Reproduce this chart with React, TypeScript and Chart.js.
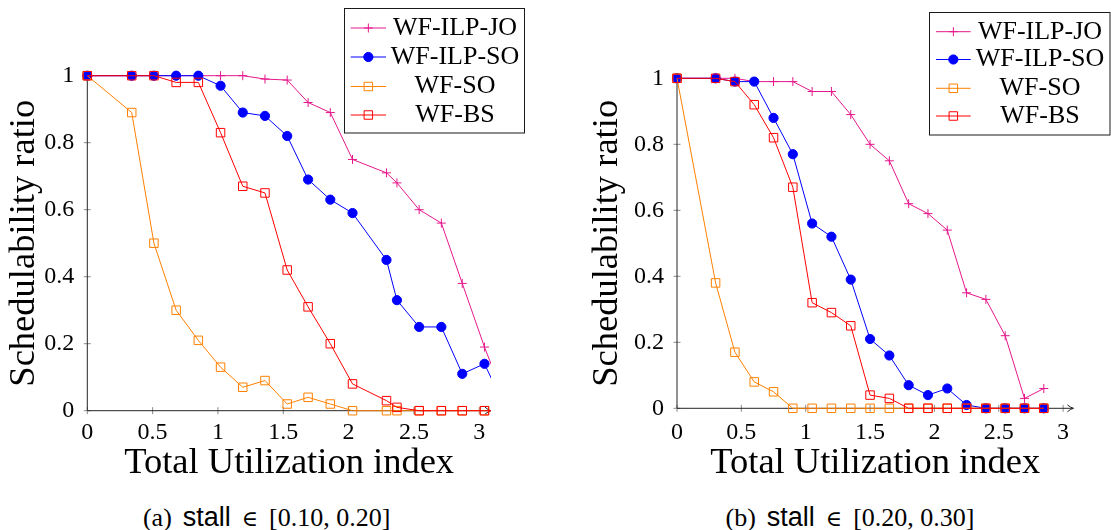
import React, { useEffect, useRef } from 'react';
import { Chart, registerables } from 'chart.js';

Chart.register(...registerables);

// ---------- shared text / ticks ----------
const SERIES_NAMES = ['WF-ILP-JO', 'WF-ILP-SO', 'WF-SO', 'WF-BS'];
const X_TICKS = [0, 0.5, 1, 1.5, 2, 2.5, 3];
const X_TICK_LABELS = ['0', '0.5', '1', '1.5', '2', '2.5', '3'];
const Y_TICKS = [0, 0.2, 0.4, 0.6, 0.8, 1];
const Y_TICK_LABELS = ['0', '0.2', '0.4', '0.6', '0.8', '1'];
const X_TITLE = 'Total Utilization index';
const Y_TITLE = 'Schedulability ratio';

// ---------- panel (a): stall in [0.10, 0.20] ----------
const utilA = [0, 0.34, 0.51, 0.68, 0.85, 1.02, 1.19, 1.36, 1.53, 1.69, 1.86, 2.03, 2.29, 2.37, 2.54, 2.71, 2.87, 3.04, 3.21];
const ilpJoA = [1, 1, 1, 1, 1, 1, 1, 0.99, 0.987, 0.92, 0.89, 0.75, 0.71, 0.68, 0.6, 0.56, 0.38, 0.19, 0.02];
const ilpSoA = [1, 1, 1, 1, 1, 0.97, 0.89, 0.88, 0.82, 0.69, 0.63, 0.59, 0.45, 0.33, 0.25, 0.25, 0.11, 0.14, 0.0];
const wfSoA = [1, 0.89, 0.5, 0.3, 0.21, 0.13, 0.07, 0.09, 0.02, 0.04, 0.02, 0, 0, 0, 0, 0, 0, 0, 0];
const wfBsA = [1, 1, 1, 0.98, 0.98, 0.83, 0.67, 0.65, 0.42, 0.31, 0.2, 0.08, 0.03, 0.01, 0, 0, 0, 0, 0];

// ---------- panel (b): stall in [0.20, 0.30] ----------
const utilB = [0, 0.3, 0.45, 0.6, 0.75, 0.9, 1.05, 1.2, 1.35, 1.5, 1.65, 1.8, 1.95, 2.1, 2.25, 2.4, 2.55, 2.7, 2.85];
const ilpJoB = [1, 1, 1, 0.99, 0.99, 0.99, 0.96, 0.96, 0.89, 0.8, 0.75, 0.62, 0.59, 0.54, 0.35, 0.33, 0.22, 0.03, 0.06];
const ilpSoB = [1, 1, 0.99, 0.99, 0.88, 0.77, 0.56, 0.52, 0.39, 0.21, 0.16, 0.07, 0.04, 0.06, 0.01, 0, 0, 0, 0];
const wfSoB = [1, 0.38, 0.17, 0.08, 0.05, 0, 0, 0, 0, 0, 0, 0, 0, 0, 0, 0, 0, 0, 0];
const wfBsB = [1, 1, 0.99, 0.92, 0.82, 0.67, 0.32, 0.29, 0.25, 0.04, 0.03, 0, 0, 0, 0, 0, 0, 0, 0];

// ---------- captions ----------
const CAPTION_TAGS = ['(a)', '(b)'];
const CAPTION_RANGES = ['[0.10, 0.20]', '[0.20, 0.30]'];

// ---------- styles ----------
const SERIF = '"Liberation Serif", "Times New Roman", serif';
const STYLES = [
  { color: '#e6178c', marker: 'cross', radius: 4.5, fill: '#e6178c', order: 3 },
  { color: '#0000ff', marker: 'circle', radius: 4.6, fill: '#0000ff', order: 2 },
  { color: '#ff8000', marker: 'rect', radius: 6, fill: 'rgba(0,0,0,0)', order: 1 },
  { color: '#ff0000', marker: 'rect', radius: 6, fill: 'rgba(0,0,0,0)', order: 0 },
];

type Cfg = {
  left: number; width: number; height: number;
  plotLeft: number; plotRight: number; plotTop: number; plotBottom: number;
  xMax: number; xTickPad: number; yTickPad: number; yTitlePad: number;
  clipRight: boolean;
  legend: { l: number; t: number; r: number; b: number; rows: number[]; s1: number; s2: number; tx: number };
  util: number[]; series: number[][];
  captionCenter: number;
};

const PANELS: Cfg[] = [
  {
    left: 0, width: 530, height: 485,
    plotLeft: 87.3, plotRight: 491, plotTop: 75.7, plotBottom: 410.7,
    xMax: 3.09, xTickPad: 8, yTickPad: 13, yTitlePad: 2.8,
    clipRight: true,
    legend: { l: 344.5, t: 8.5, r: 524.5, b: 133, rows: [28, 57, 86.5, 115], s1: 350.7, s2: 386, tx: 455 },
    util: utilA, series: [ilpJoA, ilpSoA, wfSoA, wfBsA],
    captionCenter: 266.7,
  },
  {
    left: 560, width: 551, height: 485,
    plotLeft: 117, plotRight: 513.4, plotTop: 78.3, plotBottom: 408.3,
    xMax: 3.08, xTickPad: 10, yTickPad: 13, yTitlePad: 25.1,
    clipRight: false,
    legend: { l: 369.5, t: 12.5, r: 550, b: 135, rows: [31.7, 59.5, 88.3, 116], s1: 376, s2: 410.7, tx: 480 },
    util: utilB, series: [ilpJoB, ilpSoB, wfSoB, wfBsB],
    captionCenter: 850,
  },
];

function drawMarker(ctx: CanvasRenderingContext2D, st: any, x: number, y: number) {
  ctx.save();
  ctx.strokeStyle = st.color;
  ctx.fillStyle = st.fill;
  ctx.lineWidth = 1;
  ctx.beginPath();
  if (st.marker === 'cross') {
    ctx.moveTo(x - st.radius, y);
    ctx.lineTo(x + st.radius, y);
    ctx.moveTo(x, y - st.radius);
    ctx.lineTo(x, y + st.radius);
    ctx.stroke();
  } else if (st.marker === 'circle') {
    ctx.arc(x, y, st.radius, 0, Math.PI * 2);
    ctx.fill();
    ctx.stroke();
  } else {
    const s = st.radius * Math.SQRT1_2;
    ctx.rect(x - s, y - s, 2 * s, 2 * s);
    ctx.stroke();
  }
  ctx.restore();
}

function makeAxesPlugin() {
  return {
    id: 'pgfAxes',
    beforeDatasetsDraw(chart: any) {
      const { ctx, chartArea: a, scales } = chart;
      const xs = scales.x;
      const ys = scales.y;
      ctx.save();
      ctx.lineWidth = 1;
      ctx.strokeStyle = '#8a8a8a';
      ctx.beginPath();
      X_TICKS.forEach((v) => {
        const px = xs.getPixelForValue(v);
        ctx.moveTo(px, a.bottom - 3.5);
        ctx.lineTo(px, a.bottom + 3.5);
      });
      Y_TICKS.forEach((v) => {
        const py = ys.getPixelForValue(v);
        ctx.moveTo(a.left - 3.5, py);
        ctx.lineTo(a.left + 3.5, py);
      });
      ctx.stroke();
      ctx.strokeStyle = '#262626';
      ctx.beginPath();
      ctx.moveTo(a.left, a.top);
      ctx.lineTo(a.left, a.bottom);
      ctx.lineTo(a.right, a.bottom);
      ctx.stroke();
      ctx.beginPath();
      ctx.moveTo(a.right - 6, a.bottom - 3.5);
      ctx.quadraticCurveTo(a.right - 3, a.bottom - 0.8, a.right, a.bottom);
      ctx.quadraticCurveTo(a.right - 3, a.bottom + 0.8, a.right - 6, a.bottom + 3.5);
      ctx.stroke();
      ctx.restore();
    },
  };
}

function makeLegendPlugin(cfg: Cfg) {
  return {
    id: 'boxLegend',
    afterDraw(chart: any) {
      const { ctx } = chart;
      const L = cfg.legend;
      ctx.save();
      ctx.fillStyle = '#ffffff';
      ctx.fillRect(L.l, L.t, L.r - L.l, L.b - L.t);
      ctx.strokeStyle = '#1a1a1a';
      ctx.lineWidth = 1;
      ctx.strokeRect(L.l, L.t, L.r - L.l, L.b - L.t);
      SERIES_NAMES.forEach((name, i) => {
        const st = STYLES[i];
        const y = L.rows[i];
        ctx.strokeStyle = st.color;
        ctx.lineWidth = 1;
        ctx.beginPath();
        ctx.moveTo(L.s1, y);
        ctx.lineTo(L.s2, y);
        ctx.stroke();
        drawMarker(ctx, st, (L.s1 + L.s2) / 2, y);
        ctx.fillStyle = '#000';
        ctx.font = `26px ${SERIF}`;
        ctx.textAlign = 'center';
        ctx.textBaseline = 'middle';
        ctx.fillText(name, L.tx, y);
      });
      ctx.restore();
    },
  };
}

function Panel({ cfg }: { cfg: Cfg }) {
  const ref = useRef<HTMLCanvasElement>(null);
  useEffect(() => {
    const canvas = ref.current;
    if (!canvas) return;
    const datasets = cfg.series.map((ys, i) => {
      const st = STYLES[i];
      return {
        label: SERIES_NAMES[i],
        data: cfg.util.map((x, j) => ({ x, y: ys[j] })),
        borderColor: st.color,
        backgroundColor: st.fill,
        borderWidth: 1,
        tension: 0,
        pointStyle: st.marker,
        pointRadius: st.radius,
        pointBorderWidth: 1,
        pointBorderColor: st.color,
        pointBackgroundColor: st.fill,
        order: st.order,
        clip: cfg.clipRight ? { left: false, top: false, right: 0, bottom: false } : false,
      };
    });
    const chart = new Chart(canvas, {
      type: 'line',
      data: { datasets } as any,
      options: {
        animation: false,
        responsive: false,
        layout: { padding: { left: 0, top: cfg.plotTop, right: cfg.width - cfg.plotRight, bottom: 0 } },
        plugins: { legend: { display: false }, tooltip: { enabled: false } },
        scales: {
          x: {
            type: 'linear',
            min: 0,
            max: cfg.xMax,
            afterFit: (s: any) => { s.height = cfg.height - cfg.plotBottom; },
            afterBuildTicks: (s: any) => { s.ticks = X_TICKS.map((v) => ({ value: v })); },
            ticks: {
              callback: (_v: any, idx: number) => X_TICK_LABELS[idx],
              font: { family: SERIF, size: 24 },
              color: '#000',
              padding: cfg.xTickPad,
              maxRotation: 0,
              autoSkip: false,
              includeBounds: false,
            },
            grid: { display: false, drawTicks: false },
            border: { display: false },
            title: { display: true, text: X_TITLE, font: { family: SERIF, size: 36.5 }, color: '#000', padding: 0 },
          },
          y: {
            type: 'linear',
            min: 0,
            max: 1,
            afterFit: (s: any) => { s.width = cfg.plotLeft; },
            afterBuildTicks: (s: any) => { s.ticks = Y_TICKS.map((v) => ({ value: v })); },
            ticks: {
              callback: (_v: any, idx: number) => Y_TICK_LABELS[idx],
              font: { family: SERIF, size: 24 },
              color: '#000',
              padding: cfg.yTickPad,
              autoSkip: false,
              includeBounds: false,
            },
            grid: { display: false, drawTicks: false },
            border: { display: false },
            title: { display: true, text: Y_TITLE, font: { family: SERIF, size: 36.5 }, color: '#000', padding: { top: cfg.yTitlePad, bottom: 0 } },
          },
        },
      } as any,
      plugins: [makeAxesPlugin(), makeLegendPlugin(cfg)],
    });
    return () => chart.destroy();
  }, [cfg]);
  return (
    <canvas
      ref={ref}
      width={cfg.width}
      height={cfg.height}
      style={{ position: 'absolute', left: cfg.left, top: 0, width: cfg.width, height: cfg.height }}
    />
  );
}

export default function App() {
  return (
    <div style={{ position: 'fixed', left: 0, top: 0, width: 1111, height: 530, background: '#fff', overflow: 'hidden' }}>
      {PANELS.map((p, i) => (
        <React.Fragment key={i}>
          <Panel cfg={p} />
          <div
            style={{
              position: 'absolute', left: p.captionCenter - 200, width: 400, top: 502,
              textAlign: 'center', fontFamily: SERIF, fontSize: 26, lineHeight: '30px',
              whiteSpace: 'pre', color: '#000',
            }}
          >
            <span>{CAPTION_TAGS[i]}</span>
            <span style={{ marginLeft: 11, fontFamily: '"Liberation Sans", sans-serif', fontSize: 27 }}>stall</span>
            <span style={{ marginLeft: 11, fontFamily: '"DejaVu Serif", serif', fontSize: 22 }}>∈</span>
            <span style={{ marginLeft: 11 }}>{CAPTION_RANGES[i]}</span>
          </div>
        </React.Fragment>
      ))}
    </div>
  );
}
